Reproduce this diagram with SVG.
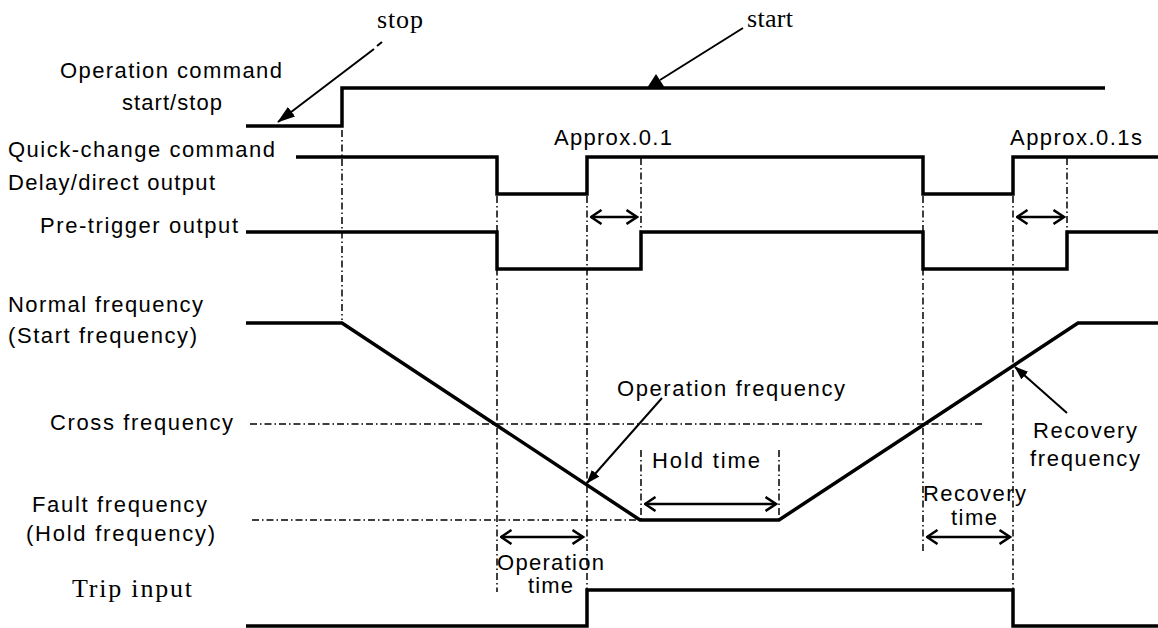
<svg xmlns="http://www.w3.org/2000/svg" width="1158" height="628" viewBox="0 0 1158 628">
<style>
.s{font-family:"Liberation Sans",Arial,sans-serif;font-size:22px;fill:#000}
.t{font-family:"Liberation Serif","Times New Roman",serif;font-size:26px;fill:#000}
.sig{fill:none;stroke:#000;stroke-width:3.5;stroke-linejoin:miter}
.dd{fill:none;stroke:#000;stroke-width:1.5;stroke-dasharray:7 3 1.5 3}
.arr{fill:none;stroke:#000;stroke-width:2}
.dbl{fill:none;stroke:#000;stroke-width:2.5;marker-start:url(#chev);marker-end:url(#chev)}
</style>
<defs>
<marker id="chev" markerUnits="userSpaceOnUse" viewBox="0 0 13 16" refX="11.5" refY="8" markerWidth="13" markerHeight="16" orient="auto-start-reverse">
<path d="M1,1 L11.5,8 L1,15" fill="none" stroke="#000" stroke-width="2.5"/>
</marker>
<marker id="fill" markerUnits="userSpaceOnUse" viewBox="0 0 14 10" refX="13" refY="5" markerWidth="14" markerHeight="10" orient="auto">
<path d="M0,0 L14,5 L0,10 z" fill="#000"/>
</marker>
<marker id="fillbig" markerUnits="userSpaceOnUse" viewBox="0 0 18 12" refX="17" refY="6" markerWidth="18" markerHeight="12" orient="auto">
<path d="M0,0 L18,6 L0,12 z" fill="#000"/>
</marker>
</defs>
<rect width="1158" height="628" fill="#fff"/>

<g id="operation-command">
<text class="s" x="60" y="78" textLength="222" lengthAdjust="spacing">Operation command</text>
<text class="s" x="122" y="110" textLength="100" lengthAdjust="spacing">start/stop</text>
<polyline class="sig" points="246,126 342,126 342,88 1105,88"/>
</g>

<g id="quick-change-command">
<text class="s" x="8" y="157" textLength="267" lengthAdjust="spacing">Quick-change command</text>
<text class="s" x="8" y="190" textLength="207" lengthAdjust="spacing">Delay/direct output</text>
<polyline class="sig" points="296,157 497,157 497,194 587,194 587,157 923,157 923,194 1013,194 1013,157 1158,157"/>
</g>

<g id="pre-trigger-output">
<text class="s" x="40" y="233" textLength="198" lengthAdjust="spacing">Pre-trigger  output</text>
<polyline class="sig" points="246,232 497,232 497,269 641,269 641,232 923,232 923,269 1067,269 1067,232 1158,232"/>
</g>

<g id="frequency">
<text class="s" x="8" y="312" textLength="195" lengthAdjust="spacing">Normal frequency</text>
<text class="s" x="8" y="343" textLength="189" lengthAdjust="spacing">(Start  frequency)</text>
<polyline class="sig" points="246,323 342,323 640,520 779,520 1078,323 1158,323"/>
</g>

<g id="cross-frequency">
<text class="s" x="50" y="430" textLength="183" lengthAdjust="spacing">Cross  frequency</text>
<line class="dd" x1="250" y1="424" x2="983" y2="424"/>
</g>

<g id="fault-frequency">
<text class="s" x="32" y="512" textLength="175" lengthAdjust="spacing">Fault  frequency</text>
<text class="s" x="26" y="541" textLength="189" lengthAdjust="spacing">(Hold  frequency)</text>
<line class="dd" x1="252" y1="520" x2="640" y2="520"/>
</g>

<g id="trip-input">
<text class="t" x="72" y="597" font-size="27" textLength="120" lengthAdjust="spacing">Trip  input</text>
<polyline class="sig" points="246,626 587,626 587,590 1013,590 1013,626 1158,626"/>
</g>

<g id="annotations">
<text class="t" x="377" y="28" textLength="46" lengthAdjust="spacing">stop</text>
<text class="t" x="747" y="27" textLength="46" lengthAdjust="spacing">start</text>
<text class="s" x="554" y="145" textLength="118" lengthAdjust="spacing">Approx.0.1</text>
<text class="s" x="1010" y="145" textLength="132" lengthAdjust="spacing">Approx.0.1s</text>
<text class="s" x="617" y="396" textLength="228" lengthAdjust="spacing">Operation  frequency</text>
<text class="s" x="652" y="468" textLength="108" lengthAdjust="spacing">Hold  time</text>
<text class="s" x="1033" y="438" textLength="104" lengthAdjust="spacing">Recovery</text>
<text class="s" x="1030" y="466" textLength="110" lengthAdjust="spacing">frequency</text>
<text class="s" x="497" y="570" textLength="107" lengthAdjust="spacing">Operation</text>
<text class="s" x="528" y="593" textLength="45" lengthAdjust="spacing">time</text>
<text class="s" x="923" y="501" textLength="103" lengthAdjust="spacing">Recovery</text>
<text class="s" x="951" y="525" textLength="46" lengthAdjust="spacing">time</text>
</g>

<g id="connectors">
<line class="dd" x1="342" y1="130" x2="342" y2="320"/>
<line class="dd" x1="497" y1="196" x2="497" y2="592"/>
<line class="dd" x1="587" y1="196" x2="587" y2="590"/>
<line class="dd" x1="641" y1="158" x2="641" y2="232"/>
<line class="dd" x1="923" y1="196" x2="923" y2="553"/>
<line class="dd" x1="1013" y1="196" x2="1013" y2="590"/>
<line class="dd" x1="1067" y1="158" x2="1067" y2="232"/>
<line class="dd" x1="641" y1="450" x2="641" y2="520"/>
<line class="dd" x1="779" y1="450" x2="779" y2="520"/>

<line class="dbl" x1="591" y1="217" x2="637" y2="217"/>
<line class="dbl" x1="1017" y1="217" x2="1064" y2="217"/>
<line class="dbl" x1="645" y1="504" x2="776" y2="504"/>
<line class="dbl" x1="501" y1="537" x2="583" y2="537"/>
<line class="dbl" x1="927" y1="537" x2="1010" y2="537"/>

<line class="arr" x1="382" y1="42" x2="377" y2="46"/>
<line class="arr" x1="374" y1="49" x2="278" y2="122" marker-end="url(#fillbig)"/>
<line class="arr" x1="743" y1="28" x2="660" y2="80"/>
<polygon points="647,88 665,88 656,74" fill="#000"/>
<line class="arr" x1="662" y1="398" x2="587" y2="483" marker-end="url(#fill)"/>
<line class="arr" x1="1067" y1="413" x2="1015" y2="367" marker-end="url(#fill)"/>
</g>
</svg>
